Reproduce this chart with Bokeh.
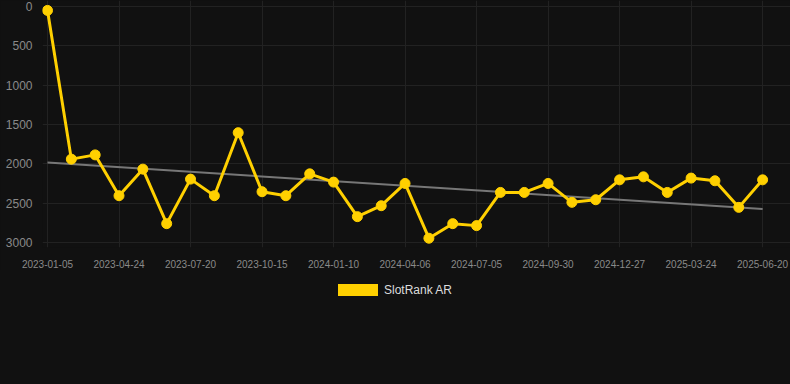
from bokeh.plotting import figure
from bokeh.models import Range1d, FixedTicker, Div
from bokeh.layouts import column
from bokeh.embed import file_html
from bokeh.resources import INLINE

# ---- data ----
ranks = [50, 1940, 1886, 2405, 2067, 2760, 2194, 2405, 1604, 2354, 2405,
         2127, 2232, 2671, 2532, 2249, 2945, 2760, 2785, 2363, 2363, 2249,
         2489, 2456, 2203, 2165, 2363, 2181, 2215, 2553, 2203]
x_idx = list(range(len(ranks)))
tick_idx = [0, 3, 6, 9, 12, 15, 18, 21, 24, 27, 30]
tick_labels = ["2023-01-05", "2023-04-24", "2023-07-20", "2023-10-15",
               "2024-01-10", "2024-04-06", "2024-07-05", "2024-09-30",
               "2024-12-27", "2025-03-24", "2025-06-20"]
trend_x = [0, 30]
trend_y = [1983, 2574]
y_ticks = [0, 500, 1000, 1500, 2000, 2500, 3000]
series_name = "SlotRank AR"

BG = "#111111"
YEL = "#FFD000"
FONT = "Liberation Sans"

p = figure(width=790, height=270, output_backend="svg", toolbar_location=None,
           x_range=Range1d(-0.21, 31.17), y_range=Range1d(3063, -76),
           background_fill_color=BG, border_fill_color=BG,
           min_border_left=42, min_border_right=0, min_border_top=0,
           min_border_bottom=22, outline_line_color=None)

p.xgrid.ticker = FixedTicker(ticks=tick_idx)
p.xgrid.grid_line_color = "#222222"
p.ygrid.grid_line_color = "#222222"

p.xaxis.ticker = FixedTicker(ticks=tick_idx)
p.xaxis.major_label_overrides = {i: l for i, l in zip(tick_idx, tick_labels)}
p.yaxis.ticker = FixedTicker(ticks=y_ticks)
for ax in (p.xaxis[0], p.yaxis[0]):
    ax.axis_line_color = None
    ax.major_tick_line_color = None
    ax.minor_tick_line_color = None
    ax.major_label_text_font = FONT
    ax.major_label_text_color = "#8a8a8a"
p.xaxis.major_label_text_font_size = "10px"
p.xaxis.major_label_standoff = 6
p.yaxis.major_label_text_font_size = "12px"
p.yaxis.major_label_standoff = 4

p.line(trend_x, trend_y, line_color="#777777", line_width=2)
p.line(x_idx, ranks, line_color=YEL, line_width=3)
p.scatter(x_idx, ranks, size=10, fill_color=YEL, line_color=YEL)

legend_html = (
    '<div style="width:790px;padding-top:8px;padding-left:333px;box-sizing:border-box;'
    'font-family:\'Liberation Sans\';font-size:12px;line-height:12px;color:#dddddd;white-space:nowrap">'
    '<span style="display:inline-block;width:40px;height:12px;background:%s;'
    'vertical-align:middle;margin-right:6px"></span>'
    '<span style="vertical-align:middle">%s</span></div>' % (YEL, series_name)
)
legend_div = Div(text=legend_html, width=790, height=114,
                 styles={"background-color": BG})

layout = column(p, legend_div, spacing=0)

html = file_html(layout, INLINE)
html = html.replace("</head>", "<style>html,body{background:#111111;margin:0;}</style></head>", 1)
open("out.html", "w").write(html)
